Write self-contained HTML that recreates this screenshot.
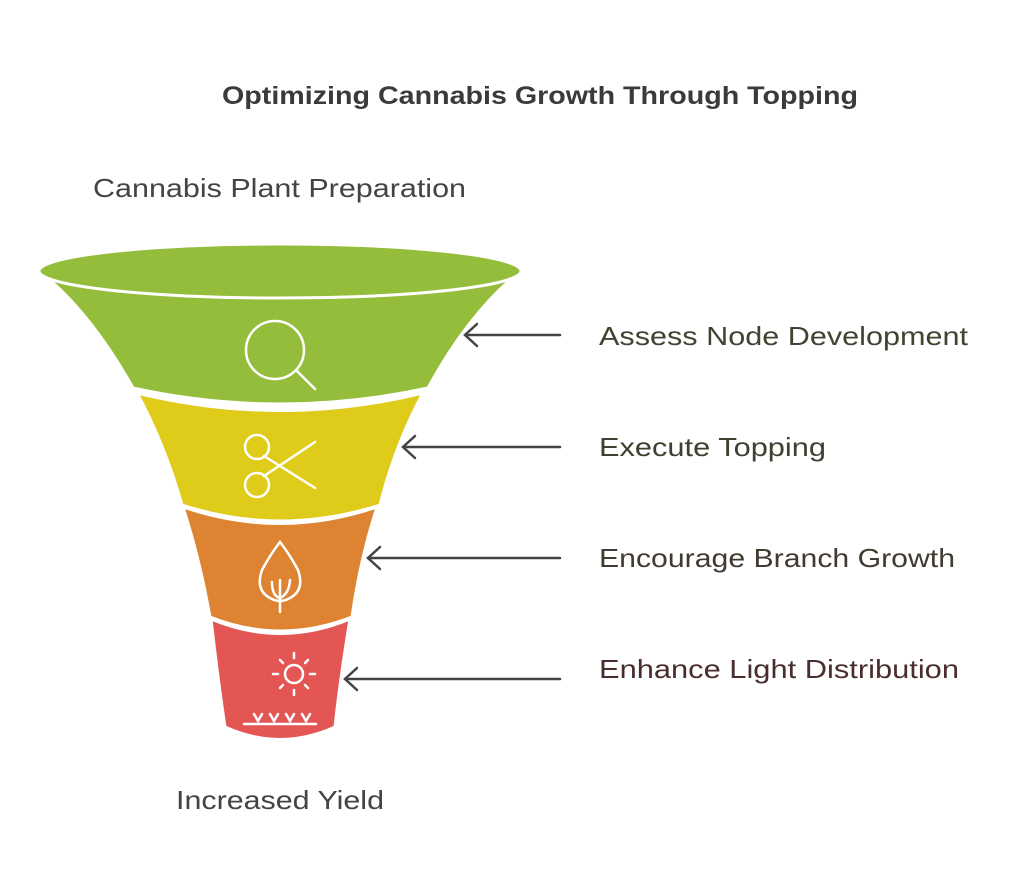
<!DOCTYPE html>
<html><head><meta charset="utf-8"><style>html,body{margin:0;padding:0;background:#fff}svg{display:block}</style></head>
<body>
<svg width="1024" height="894" viewBox="0 0 1024 894" xmlns="http://www.w3.org/2000/svg" font-family="Liberation Sans, sans-serif">
<text x="540" y="104" text-anchor="middle" font-size="25" font-weight="bold" fill="#3a3a3a" textLength="636" lengthAdjust="spacingAndGlyphs">Optimizing Cannabis Growth Through Topping</text>
<text x="93" y="197" font-size="26" fill="#444" textLength="373" lengthAdjust="spacingAndGlyphs">Cannabis Plant Preparation</text>
<text x="176" y="809" font-size="26" fill="#444" textLength="208" lengthAdjust="spacingAndGlyphs">Increased Yield</text>

<g stroke="#fff" stroke-width="3">
<!-- red -->
<path d="M211,619 Q280,648 350,619 Q340,680 335,727 Q280,752 225,727 Q218,680 211,619 Z" fill="#e35654"/>
<!-- orange -->
<path d="M183,507 Q280,540 377,507 Q360,560 352,617 Q280,645 210,617 Q200,560 183,507 Z" fill="#dd8331"/>
<!-- yellow -->
<path d="M137,393 Q280,428 423,393 Q395,445 380,505 Q280,537 182,505 Q165,445 137,393 Z" fill="#dfcb1a"/>
<!-- green -->
<path d="M50,280 Q280,300 510,280 Q465,320 428,388 Q280,420 133,388 Q95,320 50,280 Z" fill="#93bd3a"/>
<ellipse cx="280" cy="271" rx="241" ry="27" fill="#93bd3a"/>
</g>

<!-- icons -->
<g fill="none" stroke="#fff" stroke-width="2.5" stroke-linecap="round">
<circle cx="275" cy="350" r="29"/>
<line x1="296" y1="370" x2="315" y2="389"/>
<circle cx="257" cy="447" r="12"/>
<circle cx="257" cy="485" r="12"/>
<line x1="264" y1="456" x2="315" y2="488"/>
<line x1="264" y1="476" x2="315" y2="442"/>
<path d="M280,542 Q270,555 262,570 Q255,590 270,598 Q280,604 290,598 Q305,590 298,570 Q290,555 280,542 Z"/>
<line x1="280" y1="580" x2="280" y2="612"/>
<path d="M272,582 Q272,596 280,598 Q289,594 290,580"/>
<circle cx="294" cy="674" r="9"/>
<line x1="294" y1="653" x2="294" y2="658"/><line x1="294" y1="690" x2="294" y2="695"/>
<line x1="273" y1="674" x2="278" y2="674"/><line x1="310" y1="674" x2="315" y2="674"/>
<line x1="280" y1="660" x2="283" y2="663"/><line x1="305" y1="685" x2="308" y2="688"/>
<line x1="280" y1="688" x2="283" y2="685"/><line x1="305" y1="663" x2="308" y2="660"/>
<line x1="244" y1="724" x2="316" y2="724"/>
<path d="M254,714 L258,721 L262,714 M270,714 L274,721 L278,714 M286,714 L290,721 L294,714 M302,714 L306,721 L310,714"/>
</g>

<!-- arrows -->
<g fill="none" stroke="#444" stroke-width="2.5" stroke-linecap="round">
<line x1="465" y1="335" x2="560" y2="335"/><path d="M477,324 L465,335 L477,346"/>
<line x1="403" y1="447" x2="560" y2="447"/><path d="M415,436 L403,447 L415,458"/>
<line x1="368" y1="558" x2="560" y2="558"/><path d="M380,547 L368,558 L380,569"/>
<line x1="345" y1="679" x2="560" y2="679"/><path d="M357,668 L345,679 L357,690"/>
</g>

<g font-size="26">
<text x="599" y="345" fill="#3f4530" textLength="369" lengthAdjust="spacingAndGlyphs">Assess Node Development</text>
<text x="599" y="456" fill="#3f4030" textLength="227" lengthAdjust="spacingAndGlyphs">Execute Topping</text>
<text x="599" y="567" fill="#403a30" textLength="356" lengthAdjust="spacingAndGlyphs">Encourage Branch Growth</text>
<text x="599" y="678" fill="#4a2e2e" textLength="360" lengthAdjust="spacingAndGlyphs">Enhance Light Distribution</text>
</g>
</svg>
</body></html>
